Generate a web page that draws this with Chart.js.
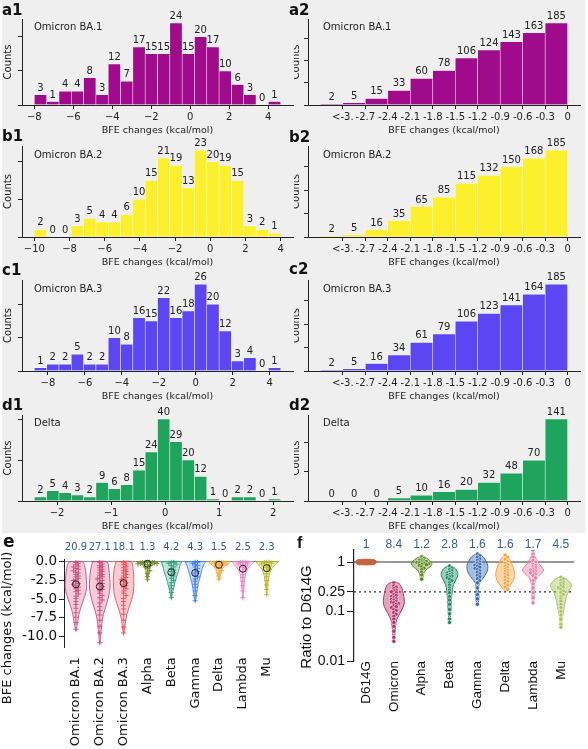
<!DOCTYPE html>
<html>
<head>
<meta charset="utf-8">
<script src="https://cdn.jsdelivr.net/npm/chart.js@4.4.1/dist/chart.umd.min.js"></script>
<style>
  body { margin: 0; background: #fff; width: 588px; height: 749px; position: relative; overflow: hidden; }
  #topBox { position: absolute; left: 2px; top: 0; width: 583px; height: 533px; background: #efefef; }
  canvas { position: absolute; }
  .lab { position: absolute; font-family: "DejaVu Sans"; font-weight: bold; font-size: 15px; line-height: 1; color: #111; }
</style>
</head>
<body>
<div id="topBox"></div>

<canvas id="a1" width="294" height="137" style="left:0;top:0"></canvas>
<canvas id="a2" width="294" height="137" style="left:294px;top:0"></canvas>
<canvas id="b1" width="294" height="142" style="left:0;top:127px"></canvas>
<canvas id="b2" width="294" height="142" style="left:294px;top:127px"></canvas>
<canvas id="c1" width="294" height="142" style="left:0;top:261px"></canvas>
<canvas id="c2" width="294" height="142" style="left:294px;top:261px"></canvas>
<canvas id="d1" width="294" height="137" style="left:0;top:396px"></canvas>
<canvas id="d2" width="294" height="137" style="left:294px;top:396px"></canvas>
<canvas id="e" width="294" height="216" style="left:0;top:533px"></canvas>
<canvas id="f" width="294" height="216" style="left:294px;top:533px"></canvas>

<div class="lab" style="left:2px;top:3px">a1</div>
<div class="lab" style="left:289px;top:3px">a2</div>
<div class="lab" style="left:2px;top:129px">b1</div>
<div class="lab" style="left:289px;top:130px">b2</div>
<div class="lab" style="left:2px;top:263px">c1</div>
<div class="lab" style="left:289px;top:262px">c2</div>
<div class="lab" style="left:2px;top:398px">d1</div>
<div class="lab" style="left:289px;top:398px">d2</div>
<div class="lab" style="left:3px;top:533px;font-size:17px">e</div>
<div class="lab" style="left:297px;top:535px;font-size:16px;font-family:'Liberation Sans'">f</div>

<script>
// Histogram counts (left: BFE change distribution, right: cumulative counts)

const countsA1 = [3, 1, 4, 4, 8, 3, 12, 7, 17, 15, 15, 24, 15, 20, 17, 10, 6, 3, 0, 1];
const countsB1 = [2, 0, 0, 3, 5, 4, 4, 6, 10, 15, 21, 19, 13, 23, 20, 19, 15, 3, 2, 1];
const countsC1 = [1, 2, 2, 5, 2, 2, 10, 8, 16, 15, 22, 16, 18, 26, 20, 12, 3, 4, 0, 1];
const countsD1 = [2, 5, 4, 3, 2, 9, 6, 8, 15, 24, 40, 29, 20, 12, 1, 0, 2, 2, 0, 1];

const countsA2 = [2, 5, 15, 33, 60, 78, 106, 124, 143, 163, 185];
const countsB2 = [2, 5, 16, 35, 65, 85, 115, 132, 150, 168, 185];
const countsC2 = [2, 5, 16, 34, 61, 79, 106, 123, 141, 164, 185];
const countsD2 = [0, 0, 0, 5, 10, 16, 20, 32, 48, 70, 141];

// bin start / bin width of the left histograms (a1, b1, c1, d1)
const binStart = [-8.0, -10.0, -8.74, -2.42];
const binWidth = [0.632, 0.7, 0.667, 0.228];

// right histograms: bin edges, ticks and their labels
const cumEdges = [-3.3, -3.0, -2.7, -2.4, -2.1, -1.8, -1.5, -1.2, -0.9, -0.6, -0.3, 0];
const cumTicks = [-3.0, -2.7, -2.4, -2.1, -1.8, -1.5, -1.2, -0.9, -0.6, -0.3, 0];
const cumLabels = ["<-3.", "-2.7", "-2.4", "-2.1", "-1.8", "-1.5", "-1.2", "-0.9", "-0.6", "-0.3", "0"];

const xTicksA1 = [-8, -6, -4, -2, 0, 2, 4];
const xTicksB1 = [-10, -8, -6, -4, -2, 0, 2, 4];
const xTicksC1 = [-8, -6, -4, -2, 0, 2, 4];
const xTicksD1 = [-2, -1, 0, 1, 2];

const yTicksSmall = [0, 10, 20];
const yTicksD1 = [0, 20, 40];
const yTicksCum = [0, 50, 100, 150];
const yTicksD2 = [0, 50, 100];

const variantNames = ["Omicron BA.1", "Omicron BA.2", "Omicron BA.3", "Delta"];
const histColors = ["#a00b8b", "#fcef2c", "#5c46f4", "#1ea45c"];

// Panel e: BFE changes per variant

const eCategories = ["Omicron BA.1", "Omicron BA.2", "Omicron BA.3", "Alpha", "Beta", "Gamma", "Delta", "Lambda", "Mu"];
const eFold = ["20.9", "27.1", "18.1", "1.3", "4.2", "4.3", "1.5", "2.5", "2.3"];
const eColors = ["#cc4f7c", "#cf4873", "#ee4f5b", "#6b8e23", "#2b9e7a", "#3f7fee", "#f5a233", "#f07ec2", "#b6b622"];
const eMeans = [-3.0, -3.3, -2.85, -0.27, -1.4, -1.5, -0.4, -0.93, -0.85];
const eYTicks = [0, -2.5, -5, -7.5, -10];

// violin outlines: [value, half width]
const eProfBA1 = [[0, 0.28], [-0.5, 0.36], [-1.3, 0.41], [-2.5, 0.44], [-3.5, 0.45], [-4.5, 0.38], [-5.5, 0.27], [-6.5, 0.17], [-7.5, 0.1], [-8.5, 0.05], [-9.2, 0]];
const eProfBA2 = [[0, 0.3], [-1, 0.38], [-2.2, 0.42], [-3.5, 0.43], [-4.5, 0.38], [-5.7, 0.28], [-6.5, 0.2], [-7.5, 0.12], [-8.5, 0.08], [-9.5, 0.05], [-10.9, 0]];
const eProfBA3 = [[0, 0.32], [-1, 0.4], [-2.5, 0.43], [-4, 0.41], [-5, 0.34], [-6.2, 0.22], [-7, 0.14], [-8, 0.08], [-9, 0.04], [-9.6, 0]];
const eProfAlpha = [[0, 0.44], [-0.2, 0.35], [-0.4, 0.22], [-0.8, 0.1], [-1.3, 0.06], [-1.9, 0.04], [-2.4, 0]];
const eProfBeta = [[0, 0.42], [-0.5, 0.36], [-1.3, 0.3], [-2.2, 0.2], [-3.1, 0.13], [-4, 0.06], [-4.9, 0]];
const eProfGamma = [[0, 0.42], [-0.5, 0.34], [-1.3, 0.27], [-2.2, 0.19], [-3.1, 0.12], [-4, 0.07], [-4.7, 0.04], [-5.3, 0]];
const eProfDelta = [[0, 0.45], [-0.3, 0.35], [-0.7, 0.2], [-1.2, 0.1], [-1.8, 0.06], [-2.4, 0]];
const eProfLambda = [[0, 0.44], [-0.4, 0.35], [-0.9, 0.22], [-1.6, 0.12], [-2.5, 0.07], [-3.5, 0.04], [-4.9, 0]];
const eProfMu = [[0, 0.45], [-0.4, 0.35], [-0.9, 0.22], [-1.5, 0.13], [-2.3, 0.08], [-3.3, 0.04], [-4.4, 0]];

// individual mutations (approximate values)
const ePtsBA1 = [-0.1, -0.2, -0.4, -0.6, -0.7, -0.9, -1.0, -1.2, -1.4, -1.5, -1.7, -1.9, -2.0, -2.2, -2.4, -2.5, -2.7, -2.9, -3.0, -3.2, -3.4, -3.6, -3.8, -4.0, -4.3, -4.6, -4.9, -5.3, -5.7, -6.2, -6.8, -7.4, -8.1, -9.0];
const ePtsBA2 = [-0.1, -0.3, -0.5, -0.6, -0.8, -1.0, -1.1, -1.3, -1.5, -1.7, -1.8, -2.0, -2.2, -2.3, -2.5, -2.7, -2.9, -3.1, -3.3, -3.5, -3.7, -3.9, -4.2, -4.5, -4.8, -5.1, -5.5, -6.0, -6.5, -7.1, -7.8, -8.6, -9.5, -10.8];
const ePtsBA3 = [-0.1, -0.3, -0.4, -0.6, -0.8, -1.0, -1.2, -1.3, -1.5, -1.7, -1.9, -2.1, -2.2, -2.4, -2.6, -2.8, -3.0, -3.2, -3.4, -3.6, -3.9, -4.2, -4.5, -4.9, -5.3, -5.8, -6.3, -7.0, -7.8, -8.7, -9.5];
const ePtsAlpha = [-0.02, -0.05, -0.08, -0.1, -0.12, -0.15, -0.2, -0.25, -0.3, -0.4, -0.5, -0.7, -0.9, -1.2, -1.6, -2.0, -2.4];
const ePtsBeta = [-0.05, -0.1, -0.2, -0.3, -0.5, -0.7, -0.9, -1.1, -1.3, -1.5, -1.7, -1.9, -2.2, -2.5, -2.8, -3.2, -3.6, -4.1, -4.8];
const ePtsGamma = [-0.05, -0.1, -0.2, -0.35, -0.5, -0.7, -0.9, -1.1, -1.3, -1.5, -1.8, -2.0, -2.3, -2.6, -3.0, -3.4, -3.9, -4.5, -5.2];
const ePtsDelta = [-0.02, -0.05, -0.1, -0.15, -0.2, -0.3, -0.4, -0.5, -0.7, -0.9, -1.2, -1.5, -1.9, -2.3];
const ePtsLambda = [-0.02, -0.05, -0.1, -0.2, -0.3, -0.45, -0.6, -0.8, -1.0, -1.3, -1.7, -2.1, -2.6, -3.2, -3.9, -4.8];
const ePtsMu = [-0.02, -0.05, -0.1, -0.2, -0.3, -0.45, -0.6, -0.8, -1.0, -1.3, -1.6, -2.0, -2.5, -3.1, -3.7, -4.4];

// Panel f: neutralization ratio to D614G

const fCategories = ["D614G", "Omicron", "Alpha", "Beta", "Gamma", "Delta", "Lambda", "Mu"];
const fFold = ["1", "8.4", "1.2", "2.8", "1.6", "1.6", "1.7", "4.5"];
const fColors = ["#c5643a", "#b73269", "#5c8c1f", "#1f8a67", "#3b6db3", "#ffa23f", "#e67ea3", "#a9c35f"];
const fTicks = [0.01, 0.1, 0.25, 1];
const fRefLines = [1, 0.25];

const fProfD614G = [[1.13, 0.2], [1.1, 0.33], [1.0, 0.37], [0.91, 0.33], [0.88, 0.2]];
const fProfOmicron = [[0.40, 0], [0.37, 0.18], [0.32, 0.27], [0.23, 0.34], [0.16, 0.38], [0.125, 0.34], [0.092, 0.22], [0.067, 0.1], [0.049, 0.06], [0.036, 0.04], [0.024, 0]];
const fProfAlpha = [[1.3, 0], [1.22, 0.15], [1.1, 0.27], [0.94, 0.37], [0.8, 0.3], [0.69, 0.15], [0.59, 0.08], [0.5, 0.05], [0.43, 0]];
const fProfBeta = [[0.85, 0], [0.78, 0.15], [0.69, 0.25], [0.55, 0.3], [0.45, 0.24], [0.35, 0.14], [0.27, 0.1], [0.17, 0.07], [0.107, 0.05], [0.075, 0.03], [0.058, 0]];
const fProfGamma = [[1.48, 0], [1.35, 0.15], [1.19, 0.25], [0.87, 0.37], [0.64, 0.35], [0.47, 0.2], [0.37, 0.07], [0.27, 0.04], [0.19, 0.06], [0.135, 0]];
const fProfDelta = [[1.4, 0], [1.25, 0.1], [1.1, 0.17], [0.8, 0.28], [0.59, 0.34], [0.43, 0.3], [0.33, 0.16], [0.265, 0]];
const fProfLambda = [[1.75, 0], [1.5, 0.04], [1.28, 0.07], [1.0, 0.17], [0.87, 0.25], [0.69, 0.38], [0.59, 0.3], [0.47, 0.12], [0.32, 0.05], [0.2, 0.04], [0.146, 0]];
const fProfMu = [[0.51, 0], [0.46, 0.18], [0.4, 0.3], [0.34, 0.38], [0.27, 0.3], [0.2, 0.2], [0.125, 0.12], [0.079, 0.06], [0.048, 0]];

const fPtsD614G = [1, 1, 1, 1, 1, 1, 1];
const fPtsOmicron = [0.38, 0.33, 0.31, 0.29, 0.27, 0.26, 0.25, 0.24, 0.22, 0.21, 0.2, 0.19, 0.18, 0.175, 0.17, 0.16, 0.155, 0.15, 0.145, 0.14, 0.13, 0.125, 0.12, 0.11, 0.105, 0.095, 0.088, 0.08, 0.07, 0.06, 0.05, 0.04, 0.03, 0.025];
const fPtsAlpha = [1.27, 1.18, 1.12, 1.08, 1.05, 1.02, 1.0, 0.98, 0.96, 0.94, 0.92, 0.9, 0.88, 0.85, 0.8, 0.75, 0.7, 0.62, 0.55, 0.45];
const fPtsBeta = [0.83, 0.75, 0.7, 0.66, 0.63, 0.6, 0.58, 0.56, 0.54, 0.52, 0.5, 0.48, 0.45, 0.42, 0.38, 0.34, 0.3, 0.27, 0.24, 0.2, 0.17, 0.14, 0.11, 0.09, 0.07, 0.06];
const fPtsGamma = [1.45, 1.35, 1.25, 1.15, 1.08, 1.0, 0.95, 0.9, 0.86, 0.82, 0.78, 0.74, 0.7, 0.66, 0.62, 0.58, 0.54, 0.5, 0.46, 0.42, 0.38, 0.3, 0.22, 0.18, 0.14];
const fPtsDelta = [1.38, 1.25, 1.12, 1.02, 0.95, 0.88, 0.82, 0.76, 0.72, 0.68, 0.64, 0.6, 0.57, 0.54, 0.5, 0.46, 0.43, 0.4, 0.37, 0.34, 0.31, 0.28];
const fPtsLambda = [1.72, 1.45, 1.25, 1.08, 0.98, 0.9, 0.85, 0.8, 0.76, 0.72, 0.69, 0.66, 0.63, 0.6, 0.57, 0.53, 0.48, 0.42, 0.36, 0.3, 0.24, 0.19, 0.15];
const fPtsMu = [0.49, 0.45, 0.42, 0.39, 0.37, 0.35, 0.33, 0.31, 0.3, 0.28, 0.26, 0.24, 0.22, 0.2, 0.18, 0.16, 0.14, 0.12, 0.1, 0.085, 0.07, 0.055, 0.048];

// Common settings

Chart.defaults.font.family = "DejaVu Sans";
Chart.defaults.color = "#222";
Chart.defaults.animation = false;
Chart.defaults.responsive = false;
Chart.defaults.plugins.legend.display = false;
Chart.defaults.plugins.tooltip.enabled = false;

const axisColor = "#222";

// value above every bar + variant name inside the axes
const barText = {
    id: "barText",
    afterDatasetsDraw(chart, args, opts) {
        const ctx = chart.ctx,
            area = chart.chartArea,
            data = chart.data.datasets[0].data;

        ctx.save();
        ctx.font = "10px 'DejaVu Sans'";
        ctx.fillStyle = axisColor;
        ctx.textAlign = "center";
        ctx.textBaseline = "alphabetic";
        chart.getDatasetMeta(0).data.forEach((bar, i) => {
            ctx.fillText(String(data[i].y), bar.x, bar.y - 4);
        });

        ctx.textAlign = "left";
        ctx.textBaseline = "middle";
        ctx.fillText(opts.name, area.left + opts.nameDx, area.bottom - 0.9 * (area.bottom - area.top));
        ctx.restore();
    }
};

function drawHist(id, counts, edges, color, xTicks, xLabels, yTicks, name, left) {
    const span = edges[edges.length - 1] - edges[0];

    new Chart(document.getElementById(id), {
        type: "bar",
        data: {
            datasets: [{
                data: counts.map((c, i) => ({ x: (edges[i] + edges[i + 1]) / 2, y: c })),
                backgroundColor: color,
                borderColor: "rgba(255,255,255,0.45)",
                borderWidth: 0.6,
                barPercentage: 1,
                categoryPercentage: 1,
            }],
        },
        options: {
            layout: { padding: { top: 19, right: left ? 1 : 8, left: 0, bottom: 0 } },
            plugins: { barText: { name: name, nameDx: left ? 12 : 15 } },
            scales: {
                x: {
                    type: "linear",
                    offset: false,
                    min: edges[0] - 0.05 * span,
                    max: edges[edges.length - 1] + 0.05 * span,
                    afterBuildTicks: s => { s.ticks = xTicks.map(v => ({ value: v })); },
                    afterFit: s => { s.height = 32; },
                    ticks: {
                        autoSkip: false,
                        maxRotation: 0,
                        padding: 2,
                        font: { size: 10 },
                        callback: (v, i) => xLabels ? xLabels[i] : String(v).replace("-", "\u2212"),
                    },
                    grid: { offset: false, drawOnChartArea: false, tickLength: 4, tickColor: axisColor },
                    border: { color: axisColor },
                    title: {
                        display: true,
                        text: "BFE changes (kcal/mol)",
                        font: { size: 9.5 },
                        padding: { top: 0, bottom: 1 },
                    },
                },
                y: {
                    min: 0,
                    max: Math.max(...counts) * 1.05,
                    afterBuildTicks: s => { s.ticks = yTicks.map(v => ({ value: v })); },
                    afterFit: s => { s.width = left ? 22 : 14; },
                    ticks: { callback: () => "" },
                    grid: { drawOnChartArea: false, tickLength: 4, tickColor: axisColor },
                    border: { color: axisColor },
                    title: {
                        display: true,
                        text: "Counts",
                        font: { size: 10 },
                        padding: { top: left ? 2 : -4, bottom: 0 },
                    },
                },
            },
        },
        plugins: [barText],
    });
}

function leftEdges(k, n) {
    return Array.from({ length: n + 1 }, (_, i) => binStart[k] + i * binWidth[k]);
}

drawHist("a1", countsA1, leftEdges(0, countsA1.length), histColors[0], xTicksA1, null, yTicksSmall, variantNames[0], true);
drawHist("b1", countsB1, leftEdges(1, countsB1.length), histColors[1], xTicksB1, null, yTicksSmall, variantNames[1], true);
drawHist("c1", countsC1, leftEdges(2, countsC1.length), histColors[2], xTicksC1, null, yTicksSmall, variantNames[2], true);
drawHist("d1", countsD1, leftEdges(3, countsD1.length), histColors[3], xTicksD1, null, yTicksD1, variantNames[3], true);

drawHist("a2", countsA2, cumEdges, histColors[0], cumTicks, cumLabels, yTicksCum, variantNames[0], false);
drawHist("b2", countsB2, cumEdges, histColors[1], cumTicks, cumLabels, yTicksCum, variantNames[1], false);
drawHist("c2", countsC2, cumEdges, histColors[2], cumTicks, cumLabels, yTicksCum, variantNames[2], false);
drawHist("d2", countsD2, cumEdges, histColors[3], cumTicks, cumLabels, yTicksD2, variantNames[3], false);

// Violin helpers

function withAlpha(hex, a) {
    const n = parseInt(hex.slice(1), 16);
    return `rgba(${n >> 16}, ${(n >> 8) & 255}, ${n & 255}, ${a})`;
}

function outline(center, prof) {
    const leftSide = prof.map(([y, w]) => ({ x: center - w, y: y }));
    const rightSide = prof.slice().reverse()
        .filter((p, i) => !(i === 0 && p[1] === 0))
        .map(([y, w]) => ({ x: center + w, y: y }));
    return leftSide.concat(rightSide, [leftSide[0]]);
}

// simple beeswarm: each value takes the first free slot next to the centre
function swarm(values, center, dy, dx, tf) {
    const placed = [];
    return values.map(v => {
        const t = tf(v);
        let k = 0, off = 0;
        for (;;) {
            off = (k % 2 ? 1 : -1) * Math.ceil(k / 2) * dx;
            if (!placed.some(p => Math.abs(p.t - t) < dy && Math.abs(p.off - off) < dx * 0.9)) break;
            k++;
        }
        placed.push({ t: t, off: off });
        return { x: center + off, y: v };
    });
}

// number above each violin + free y title
const catText = {
    id: "catText",
    afterDraw(chart, args, opts) {
        const ctx = chart.ctx,
            xs = chart.scales.x;

        ctx.save();
        ctx.font = opts.numFont;
        ctx.fillStyle = "#2f5ea8";
        ctx.textAlign = "center";
        ctx.textBaseline = "middle";
        opts.numbers.forEach((t, i) => ctx.fillText(t, xs.getPixelForValue(i), opts.numY));

        ctx.translate(opts.titleX, opts.titleY);
        ctx.rotate(-Math.PI / 2);
        ctx.font = opts.titleFont;
        ctx.fillStyle = "#111";
        ctx.fillText(opts.title, 0, 0);
        ctx.restore();
    }
};

// Panel e

const eProfiles = [eProfBA1, eProfBA2, eProfBA3, eProfAlpha, eProfBeta, eProfGamma, eProfDelta, eProfLambda, eProfMu];
const ePoints = [ePtsBA1, ePtsBA2, ePtsBA3, ePtsAlpha, ePtsBeta, ePtsGamma, ePtsDelta, ePtsLambda, ePtsMu];

let eDatasets = [];

eProfiles.forEach((prof, i) => {
    eDatasets.push({
        data: outline(i, prof),
        showLine: true,
        fill: "shape",
        tension: 0.3,
        pointRadius: 0,
        borderWidth: 0.9,
        borderColor: eColors[i],
        backgroundColor: withAlpha(eColors[i], 0.28),
        order: 3,
    });
    eDatasets.push({
        data: swarm(ePoints[i], i, 0.3, 0.1, v => v),
        pointStyle: "cross",
        pointRadius: 2.6,
        pointBorderWidth: 1,
        pointBorderColor: withAlpha(eColors[i], 0.9),
        order: 2,
    });
});

eDatasets.push({
    data: eMeans.map((m, i) => ({ x: i, y: m })),
    pointStyle: "circle",
    pointRadius: 3.5,
    pointBorderWidth: 1,
    pointBorderColor: "#222",
    pointBackgroundColor: "rgba(0,0,0,0)",
    order: 1,
});

new Chart(document.getElementById("e"), {
    type: "scatter",
    data: { datasets: eDatasets },
    options: {
        layout: { padding: { top: 26.5, right: 15.4, left: 0, bottom: 0 } },
        plugins: {
            catText: {
                numbers: eFold, numY: 14, numFont: "10px 'DejaVu Sans'",
                title: "BFE changes (kcal/mol)", titleX: 8, titleY: 95, titleFont: "13px 'DejaVu Sans'",
            },
        },
        scales: {
            x: {
                type: "linear",
                min: -0.5,
                max: 8.5,
                afterBuildTicks: s => { s.ticks = eCategories.map((c, i) => ({ value: i })); },
                afterFit: s => { s.height = 101.8; },
                ticks: {
                    autoSkip: false,
                    minRotation: 90,
                    maxRotation: 90,
                    padding: 10,
                    color: "#111",
                    font: { size: 13 },
                    callback: (v, i) => eCategories[i],
                },
                grid: { display: false, drawTicks: false },
                border: { display: false },
            },
            y: {
                min: -11.4,
                max: 0.3,
                afterBuildTicks: s => { s.ticks = eYTicks.map(v => ({ value: v })); },
                afterFit: s => { s.width = 64; },
                ticks: { padding: 2, color: "#111", font: { size: 13.5 }, callback: v => v.toFixed(1) },
                grid: {
                    color: c => (c.tick && c.tick.value === 0) ? "#8a8a8a" : "rgba(0,0,0,0)",
                    tickColor: axisColor,
                    tickLength: 5,
                },
                border: { color: axisColor },
            },
        },
    },
    plugins: [catText],
});

// Panel f

const fProfiles = [fProfD614G, fProfOmicron, fProfAlpha, fProfBeta, fProfGamma, fProfDelta, fProfLambda, fProfMu];
const fPoints = [fPtsD614G, fPtsOmicron, fPtsAlpha, fPtsBeta, fPtsGamma, fPtsDelta, fPtsLambda, fPtsMu];
const fMin = -0.43, fMax = 7.47;

let fDatasets = [];

fRefLines.forEach((r, i) => {
    fDatasets.push({
        data: [{ x: fMin, y: r }, { x: fMax, y: r }],
        showLine: true,
        pointRadius: 0,
        borderColor: "#333",
        borderWidth: i === 0 ? 1.1 : 1.3,
        borderDash: i === 0 ? [] : [2, 3],
        order: 4,
    });
});

fProfiles.forEach((prof, i) => {
    fDatasets.push({
        data: outline(i, prof),
        showLine: true,
        fill: "shape",
        tension: 0.3,
        pointRadius: 0,
        borderWidth: 1,
        borderColor: fColors[i],
        backgroundColor: withAlpha(fColors[i], i === 0 ? 1 : 0.45),
        order: 3,
    });
    fDatasets.push({
        data: swarm(fPoints[i], i, 0.045, 0.085, Math.log10),
        pointStyle: "circle",
        pointRadius: 2.1,
        pointBorderWidth: i === 0 ? 0 : 0.6,
        pointBackgroundColor: fColors[i],
        pointBorderColor: "rgba(255,255,255,0.85)",
        order: 2,
    });
});

new Chart(document.getElementById("f"), {
    type: "scatter",
    data: { datasets: fDatasets },
    options: {
        layout: { padding: { top: 17, right: 14, left: 0, bottom: 0 } },
        plugins: {
            catText: {
                numbers: fFold, numY: 12, numFont: "12px 'Liberation Sans'",
                title: "Ratio to D614G", titleX: 13, titleY: 84, titleFont: "15px 'Liberation Sans'",
            },
        },
        scales: {
            x: {
                type: "linear",
                min: fMin,
                max: fMax,
                afterBuildTicks: s => { s.ticks = fCategories.map((c, i) => ({ value: i })); },
                afterFit: s => { s.height = 88; },
                ticks: {
                    autoSkip: false,
                    minRotation: 90,
                    maxRotation: 90,
                    padding: 0,
                    color: "#111",
                    font: { family: "Liberation Sans", size: 13.5 },
                    callback: (v, i) => fCategories[i],
                },
                grid: { display: false, drawTicks: false },
                border: { display: false },
            },
            y: {
                type: "logarithmic",
                min: 0.01,
                max: 1.75,
                afterBuildTicks: s => { s.ticks = fTicks.map(v => ({ value: v })); },
                afterFit: s => { s.width = 60; },
                ticks: { padding: 2, color: "#111", font: { family: "Liberation Sans", size: 14 }, callback: v => String(v) },
                grid: { drawOnChartArea: false, tickColor: axisColor, tickLength: 7 },
                border: { color: axisColor, width: 1.2 },
            },
        },
    },
    plugins: [catText],
});
</script>
</body>
</html>
